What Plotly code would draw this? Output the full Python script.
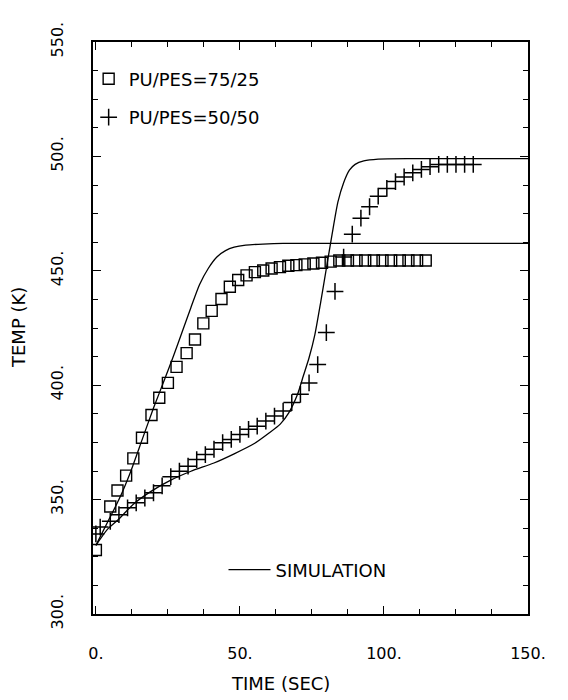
import plotly.graph_objects as go

# PU/PES = 75/25 experimental (squares)
t_7525 = [0, 5, 7.5, 10.5, 13, 16, 19.3, 22, 25, 28, 31.5, 34.4, 37.3, 40.2, 43.6, 46.5,
          49.4, 52.3, 55.2, 58.1, 61, 63.9, 66.8, 69.6, 72.5, 75.5, 78.5, 81.5, 84.5, 87.5,
          90.5, 93.5, 96.5, 99.5, 102.5, 105.5, 108.5, 111.5, 114.5]
T_7525 = [328, 347, 354, 360.5, 368, 377, 387, 394.5, 401, 408, 414, 420, 427, 432.5, 437.7, 443,
          446, 448, 449.4, 450.1, 451, 451.6, 452.2, 452.5, 452.8, 453.2, 453.5, 454, 454.5, 454.5,
          454.5, 454.5, 454.5, 454.5, 454.5, 454.5, 454.5, 454.5, 454.5]

# PU/PES = 50/50 experimental (crosses)
t_5050 = [0, 1.5, 5, 8, 11, 14, 17, 20, 23, 26, 29, 32, 35, 38, 41, 44, 47, 50, 53, 56, 59, 62,
          65, 68, 71, 74, 77, 80, 83, 86, 89, 92, 95, 98, 101, 104, 107, 110, 113, 116, 119,
          122, 125, 128, 131]
T_5050 = [335, 338, 340.5, 343.4, 346.4, 348.6, 350.7, 353, 356, 360, 362.4, 364.6, 367.5, 369.7,
          372, 374.9, 376.3, 378.5, 380.7, 382.1, 384.3, 386.5, 388.7, 392.4, 396, 401, 409, 423,
          441, 456, 466, 473, 478, 482.6, 486, 489, 491, 492.8, 494.3, 495.5, 496.5, 496.5,
          496.5, 496.5, 496.5]

# Simulation curves
sim_t_a = [0, 4, 8, 12, 16, 20, 24, 27, 30, 33, 36, 39, 42, 45, 48, 52, 58, 65, 80, 100, 150]
sim_T_a = [330, 340, 350, 362, 376, 390, 403, 413, 423.5, 434, 444, 451, 456, 458.8, 460.3, 461.2,
           461.7, 462, 462, 462, 462]

sim_t_b = [0, 4, 8, 13, 19, 26, 33, 41, 48, 55, 60, 64, 67, 70, 72, 74, 76, 78, 80, 82, 84, 86,
           88, 90, 93, 98, 110, 150]
sim_T_b = [330, 337, 341.5, 348, 353.5, 358.5, 362.4, 366, 370, 374.5, 379, 383, 388, 396, 404,
           412, 422, 436, 451, 466, 480, 488.5, 494, 496.5, 498, 498.8, 499, 499]

x_ticks = [0, 50, 100, 150]
x_ticklabels = ["0.", "50.", "100.", "150."]
y_ticks = [300, 350, 400, 450, 500, 550]
y_ticklabels = ["300.", "350.", "400.", "450.", "500.", "550."]

FONT = "DejaVu Sans"

fig = go.Figure()
fig.add_trace(go.Scatter(
    x=sim_t_a, y=sim_T_a, mode="lines", name="SIMULATION",
    line=dict(color="black", width=1.3, shape="spline", smoothing=0.6),
    legend="legend2", showlegend=True))
fig.add_trace(go.Scatter(
    x=sim_t_b, y=sim_T_b, mode="lines", name="SIMULATION",
    line=dict(color="black", width=1.3, shape="spline", smoothing=0.6),
    legend="legend2", showlegend=False))
fig.add_trace(go.Scatter(
    x=t_7525, y=T_7525, mode="markers", name="PU/PES=75/25", legendgroup="a",
    marker=dict(symbol="square-open", size=11, color="black", line=dict(width=1.4, color="black"))))
fig.add_trace(go.Scatter(
    x=t_5050, y=T_5050, mode="markers", name="PU/PES=50/50", legendgroup="b",
    marker=dict(symbol="cross-thin-open", size=12, color="black", line=dict(width=1.5, color="black"))))

axis_common = dict(
    showgrid=False, zeroline=False, showline=True, linecolor="black", linewidth=2,
    mirror="ticks", ticks="inside", ticklen=8, tickwidth=1.3, tickcolor="black",
    tickfont=dict(family=FONT, size=16, color="black"),
    minor=dict(ticks="inside", ticklen=5, tickwidth=1.2, tickcolor="black", dtick=12.5),
)

fig.update_xaxes(range=[-1, 150], tickvals=x_ticks, ticktext=x_ticklabels,
                 ticklabelstandoff=24, **axis_common)
fig.update_yaxes(range=[300, 550], tickvals=y_ticks, ticktext=y_ticklabels, tickangle=-90,
                 ticklabelstandoff=22, **axis_common)

fig.update_layout(
    width=568, height=700,
    margin=dict(l=93, r=40, t=42, b=86),
    plot_bgcolor="white", paper_bgcolor="white",
    font=dict(family=FONT, color="black"),
    legend=dict(x=-0.01, y=0.9675, xanchor="left", yanchor="top", bgcolor="rgba(0,0,0,0)",
                font=dict(family=FONT, size=18, color="black"), tracegroupgap=12,
                traceorder="grouped"),
    legend2=dict(x=0.3, y=0.077, xanchor="left", yanchor="middle", bgcolor="rgba(0,0,0,0)",
                 font=dict(family=FONT, size=18, color="black"), itemwidth=42),
    annotations=[
        dict(text="TIME (SEC)", xref="paper", yref="paper", x=0.432, y=0, yshift=-69,
             xanchor="center", yanchor="middle", showarrow=False,
             font=dict(family=FONT, size=18, color="black")),
        dict(text="TEMP (K)", xref="paper", yref="paper", x=0, y=0.5, xshift=-75,
             xanchor="center", yanchor="middle", textangle=-90, showarrow=False,
             font=dict(family=FONT, size=18, color="black")),
    ],
)

fig.write_html("out.html")
